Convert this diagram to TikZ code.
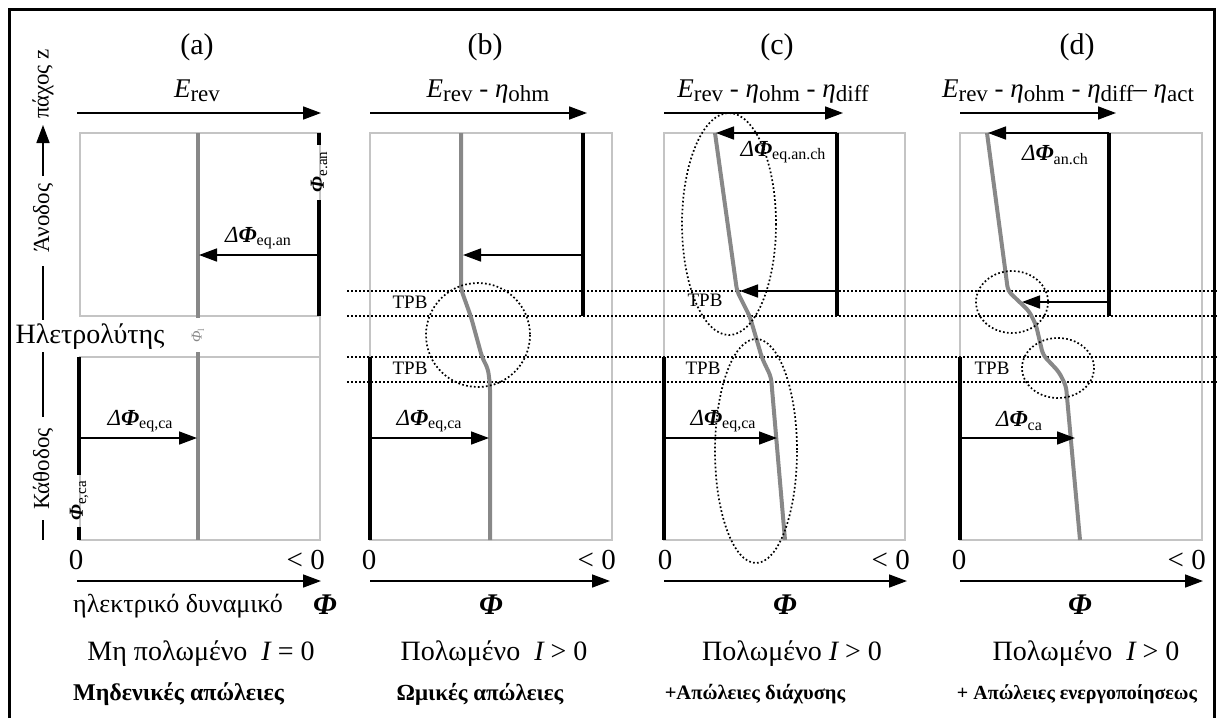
\documentclass[tikz,border=0pt]{standalone}
\usepackage{fontspec}
\setmainfont{Liberation Serif}
\usetikzlibrary{arrows.meta}
\newcommand\fsz[1]{\fontsize{#1}{#1}\selectfont}
\newcommand\lo[2]{\raisebox{-0.35ex}{\fsz{#1}#2}}
\newcommand\bphi{{\bfseries\itshape Φ}}
\definecolor{boxgray}{HTML}{C4C4C4}
\definecolor{potgray}{HTML}{888888}
\tikzset{
  frame/.style={line width=3pt},
  cellbox/.style={draw=boxgray, line width=1.8pt},
  potline/.style={draw=potgray, line width=4pt, line join=round, rounded corners=5pt},
  electrode/.style={line width=4.5pt},
  arr/.style={line width=1.6pt, -{Triangle[length=18pt,width=13pt]}},
  dotline/.style={line width=1.7pt, dash pattern=on 1.7pt off 2.3pt},
  paneltitle/.style={font=\fsz{30}, inner sep=0pt},
  eqlabel/.style={font=\fsz{27}, inner sep=0pt, anchor=base},
  dlabel/.style={font=\fsz{23}, inner sep=0pt},
  tpb/.style={font=\fsz{19}, inner sep=0pt},
  txt/.style={font=\fsz{23}, inner sep=0pt},
  stat/.style={font=\fsz{28}, inner sep=0pt},
  num/.style={font=\fsz{29}, inner sep=0pt},
  btxt/.style={font=\fsz{21}\bfseries, inner sep=0pt},
  vlab/.style={font=\fsz{20}, inner sep=0pt, rotate=90},
}
\begin{document}
\begin{tikzpicture}[x=1pt,y=-1pt]
\useasboundingbox (0,0) rectangle (1218,718);
\fill[white] (0,0) rectangle (1218,718);
\draw[frame] (9,718) -- (9,9) -- (1214,9) -- (1214,718);

% ---------- boxes ----------
\draw[cellbox] (320,316) -- (80,316) -- (80,133) -- (320,133) -- (320,540) -- (80,540) -- (80,357) -- (320,357);
\draw[cellbox] (370,133) rectangle (612,540);
\draw[cellbox] (664,133) rectangle (905,540);
\draw[cellbox] (960,133) rectangle (1202,540);

% ---------- dotted TPB lines ----------
\foreach \yy in {291,316,357,382} \draw[dotline] (347,\yy) -- (1218,\yy);

% ---------- left axis ----------
\node[txt, rotate=90] (thick) at (43,84) {πάχος z};
\coordinate (zA) at (43,176); \coordinate (zB) at (43,125);
\draw[arr] (zA) -- (zB);
\node[txt, rotate=90] (anode) at (43,218) {Άνοδος};
\draw[line width=1.6pt] (43,266) -- (43,320);
\node[font=\fsz{28}, inner sep=0pt] (elyt) at (90,337) {Ηλετρολύτης};
\draw[line width=1.6pt] (43,352) -- (43,417);
\node[txt, rotate=90] (cathode) at (43,469) {Κάθοδος};
\draw[line width=1.6pt] (43,520) -- (43,540);

% ---------- titles ----------
\node[paneltitle] (ta) at (197,47) {(a)};
\node[paneltitle] (tb) at (485,47) {(b)};
\node[paneltitle] (tc) at (777,47) {(c)};
\node[paneltitle] (td) at (1077,47) {(d)};

\node[eqlabel] (ea) at (197,97) {{\itshape E}\lo{23}{rev}};
\node[eqlabel] (eb) at (488,97) {{\itshape E}\lo{23}{rev} - {\itshape η}\lo{23}{ohm}};
\node[eqlabel] (ec) at (773,97) {{\itshape E}\lo{23}{rev} - {\itshape η}\lo{23}{ohm} - {\itshape η}\lo{23}{diff}};
\node[eqlabel] (ed) at (1068,97) {{\itshape E}\lo{23}{rev} - {\itshape η}\lo{23}{ohm} - {\itshape η}\lo{23}{diff}– {\itshape η}\lo{23}{act}};

\coordinate (ta1) at (77,113);  \coordinate (ta2) at (321,113);
\coordinate (tb1) at (370,113); \coordinate (tb2) at (587,113);
\coordinate (tc1) at (664,113); \coordinate (tc2) at (843,113);
\coordinate (td1) at (960,113); \coordinate (td2) at (1116,113);
\draw[arr] (ta1) -- (ta2);
\draw[arr] (tb1) -- (tb2);
\draw[arr] (tc1) -- (tc2);
\draw[arr] (td1) -- (td2);

% ---------- panel a ----------
\draw[potline] (198,133) -- (198,318);
\draw[potline] (198,352) -- (198,540);
\node[rotate=90, text=potgray, font=\fsz{15}, inner sep=0pt] (phil) at (198,336) {{\itshape Φ}\lo{9}{l}};
\draw[electrode] (319,133) -- (319,145);
\draw[electrode] (319,200) -- (319,316);
\node[vlab] (phiean) at (319,172) {\bphi\lo{15}{e.an}};
\coordinate (aa1) at (319,255); \coordinate (aa2) at (199,255);
\draw[arr] (aa1) -- (aa2);
\node[dlabel] (laa) at (258,238) {{\itshape Δ}\bphi\lo{16}{eq.an}};
\draw[electrode] (79,357) -- (79,475);
\draw[electrode] (79,527) -- (79,540);
\node[vlab] (phieca) at (79,501) {\bphi\lo{15}{e,ca}};
\coordinate (ac1) at (79,438); \coordinate (ac2) at (197,438);
\draw[arr] (ac1) -- (ac2);
\node[dlabel] (lac) at (140,421) {{\itshape Δ}\bphi\lo{16}{eq,ca}};

% ---------- panel b ----------
\draw[potline] (461,133) -- (461,289) -- (471,317) -- (482,357) -- (488,369) -- (490,385) -- (490,540);
\draw[electrode] (583,133) -- (583,316);
\draw[electrode] (370,357) -- (370,540);
\coordinate (ba1) at (583,255); \coordinate (ba2) at (463,255);
\draw[arr] (ba1) -- (ba2);
\coordinate (bc1) at (370,438); \coordinate (bc2) at (489,438);
\draw[arr] (bc1) -- (bc2);
\node[dlabel] (lbc) at (429,421) {{\itshape Δ}\bphi\lo{16}{eq,ca}};
\draw[dotline] (478,335) circle[radius=52];
\node[tpb] (tpbb1) at (410,302) {TPB};
\node[tpb] (tpbb2) at (410,368) {TPB};

% ---------- panel c ----------
\draw[potline] (715,133) -- (737,291) -- (750,317) -- (762,358) -- (771,377) -- (785,540);
\draw[electrode] (837,133) -- (837,316);
\draw[electrode] (664,357) -- (664,540);
\coordinate (ca1) at (837,133); \coordinate (ca2) at (716,133);
\draw[arr] (ca1) -- (ca2);
\node[dlabel] (lca) at (783,152) {{\itshape Δ}\bphi\lo{16}{eq.an.ch}};
\coordinate (cb1) at (837,291); \coordinate (cb2) at (740,291);
\draw[arr] (cb1) -- (cb2);
\coordinate (cc1) at (664,438); \coordinate (cc2) at (777,438);
\draw[arr] (cc1) -- (cc2);
\node[dlabel] (lcc) at (723,421) {{\itshape Δ}\bphi\lo{16}{eq,ca}};
\draw[dotline] (729,224) ellipse[x radius=47, y radius=111];
\draw[dotline] (756,451) ellipse[x radius=41, y radius=112];
\node[tpb] (tpbc1) at (705,300) {TPB};
\node[tpb] (tpbc2) at (703,368) {TPB};

% ---------- panel d ----------
\draw[potline] (987,133) -- (1008,291) -- (1029,311) -- (1036,325) -- (1043,355) -- (1059,372) -- (1066,386) -- (1080,540);
\draw[electrode] (1109,133) -- (1109,316);
\draw[electrode] (960,357) -- (960,540);
\coordinate (da1) at (1109,133); \coordinate (da2) at (988,133);
\draw[arr] (da1) -- (da2);
\node[dlabel] (lda) at (1055,155) {{\itshape Δ}\bphi\lo{16}{an.ch}};
\coordinate (db1) at (1109,302); \coordinate (db2) at (1022,302);
\draw[arr] (db1) -- (db2);
\coordinate (dc1) at (960,438); \coordinate (dc2) at (1075,438);
\draw[arr] (dc1) -- (dc2);
\node[dlabel] (ldc) at (1019,421) {{\itshape Δ}\bphi\lo{16}{ca}};
\draw[dotline] (1012,302) ellipse[x radius=36, y radius=31];
\draw[dotline] (1058,368) ellipse[x radius=36, y radius=30];
\node[tpb] (tpbd) at (992,368) {TPB};

% ---------- bottom axes ----------
\node[num] (za) at (76,560) {0};
\node[num] (zb) at (369,560) {0};
\node[num] (zc) at (665,560) {0};
\node[num] (zd) at (959,560) {0};
\node[num, anchor=east] (na) at (325,560) {< 0};
\node[num, anchor=east] (nb) at (616,560) {< 0};
\node[num, anchor=east] (nc) at (910,560) {< 0};
\node[num, anchor=east] (nd) at (1206,560) {< 0};
\coordinate (xa1) at (77,581);  \coordinate (xa2) at (321,581);
\coordinate (xb1) at (370,581); \coordinate (xb2) at (610,581);
\coordinate (xc1) at (664,581); \coordinate (xc2) at (907,581);
\coordinate (xd1) at (960,581); \coordinate (xd2) at (1203,581);
\draw[arr] (xa1) -- (xa2);
\draw[arr] (xb1) -- (xb2);
\draw[arr] (xc1) -- (xc2);
\draw[arr] (xd1) -- (xd2);
\node[font=\fsz{26}, inner sep=0pt, anchor=west] (potlab) at (73,606) {ηλεκτρικό δυναμικό};
\node[font=\fsz{30}, inner sep=0pt] (phia) at (325,605) {\bphi};
\node[font=\fsz{30}, inner sep=0pt] (phib) at (491,605) {\bphi};
\node[font=\fsz{30}, inner sep=0pt] (phic) at (785,605) {\bphi};
\node[font=\fsz{30}, inner sep=0pt] (phid) at (1080,605) {\bphi};

\node[stat] (sa) at (201,654) {Μη πολωμένο \ {\itshape I} = 0};
\node[stat] (sb) at (494,654) {Πολωμένο \ {\itshape I} > 0};
\node[stat] (sc) at (792,654) {Πολωμένο {\itshape I} > 0};
\node[stat] (sd) at (1086,654) {Πολωμένο \ {\itshape I} > 0};

\node[btxt, font=\fsz{24}\bfseries, anchor=west] (la) at (73,694) {Μηδενικές απώλειες};
\node[btxt, font=\fsz{23}\bfseries] (lb) at (480,694) {Ωμικές απώλειες};
\node[btxt, font=\fsz{20.5}\bfseries] (lc) at (755,694) {+Απώλειες διάχυσης};
\node[btxt, font=\fsz{20}\bfseries] (ld) at (1077,694) {+ Απώλειες ενεργοποίησεως};
\end{tikzpicture}
\end{document}
